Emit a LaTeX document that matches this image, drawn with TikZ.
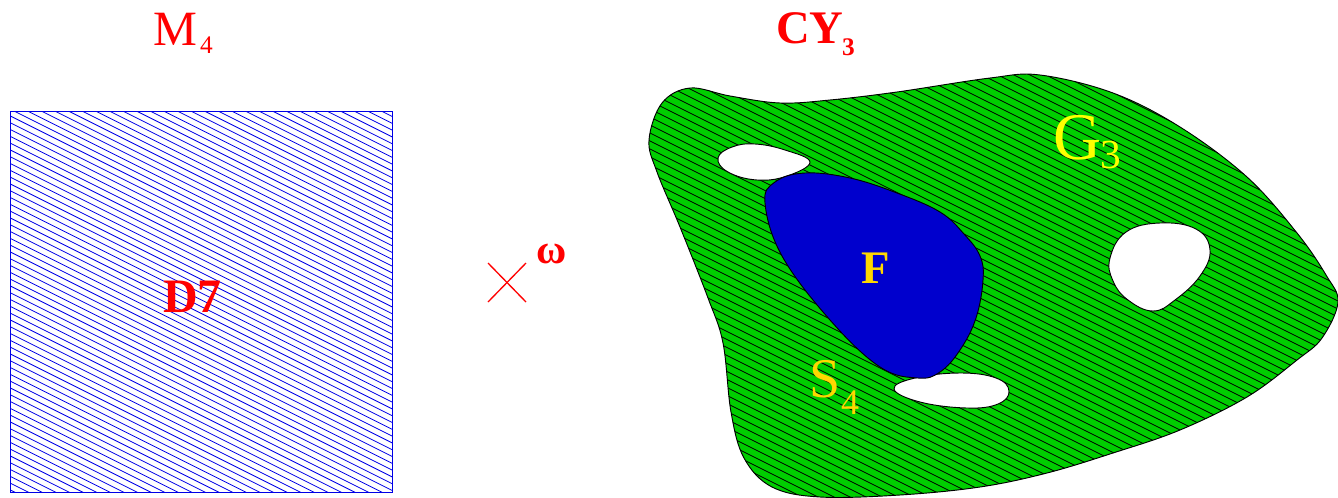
\documentclass[tikz,border=0pt]{standalone}
\usepackage{fontspec}
\setmainfont{Liberation Serif}
\definecolor{figgreen}{RGB}{0,205,0}
\definecolor{figblue}{RGB}{0,0,205}
\definecolor{hatchblue}{RGB}{0,0,230}
\definecolor{figgold}{RGB}{255,215,0}
\definecolor{figyellow}{RGB}{255,255,0}
\begin{document}
\begin{tikzpicture}[x=0.75pt,y=-0.75pt,
  lbl/.style={anchor=base west,inner sep=0pt,outer sep=0pt},
  hatchline/.style={line width=0.6pt},
  outline/.style={draw=black,line width=0.7pt},
  hole/.style={fill=white,draw=black,line width=0.7pt}]
\useasboundingbox (0,0) rectangle (1338,497);

% ---- left square (D7 on M4) ----
\begin{scope}
  \clip (10,111) rectangle (392,492);
  \foreach \c in {-100,-93.2,...,500}{
    \draw[hatchline,hatchblue] (0,\c) -- (400,\c+200);
  }
\end{scope}
\draw[hatchblue,line width=0.6pt] (10,111) rectangle (392,492);

\node[lbl,text=red] (mmain) at (153,45) {\fontsize{37}{40}\selectfont M};
\node[lbl,text=red] (msub) at (200,53) {\fontsize{19}{21}\selectfont 4};
\node[lbl,text=red] (d7) at (163,312) {\fontsize{36}{40}\selectfont\bfseries D7};

% ---- times omega ----
\coordinate (xa) at (488,263);
\coordinate (xb) at (526,302);
\coordinate (xc) at (488,302);
\coordinate (xd) at (526,263);
\draw[red,line width=1pt] (xa) -- (xb);
\draw[red,line width=1pt] (xc) -- (xd);
\node[lbl,text=red] (omega) at (536,263) {\fontsize{31}{34}\selectfont\bfseries ω};

% ---- right blob (CY3) ----
\def\blob{plot[smooth cycle,tension=0.6] coordinates {
  (649,140) (662,103) (690,88) (730,96) (780,103) (830,100) (897,92)
  (990,78) (1040,75) (1113,93) (1180,127) (1247,177) (1297,233)
  (1326,275) (1338,302) (1322,338) (1297,360) (1247,397) (1180,430)
  (1113,453) (1047,473) (980,487) (900,495) (820,497) (772,487)
  (744,458) (731,412) (723,343) (708,298) (680,227) (657,172)}}
\fill[figgreen] \blob;
\begin{scope}
  \clip \blob;
  \foreach \c in {-600,-592,...,200}{
    \draw[hatchline,black] (640,\c+320) -- (1340,\c+670);
  }
\end{scope}
\draw[outline] \blob;

% holes
\draw[hole] plot[smooth cycle,tension=0.7] coordinates {
  (718,158) (732,147) (755,144) (785,150) (810,162) (787,176) (757,180) (728,172)};
\draw[hole] plot[smooth cycle,tension=0.7] coordinates {
  (894,389) (915,378) (960,373) (996,378) (1009,391) (998,404) (967,408) (920,402)};
\draw[hole] plot[smooth cycle,tension=0.7] coordinates {
  (1110,258) (1126,232) (1160,223) (1196,229) (1210,250) (1200,276) (1175,300)
  (1153,311) (1128,300) (1113,281)};

% F region
\draw[fill=figblue,draw=black,line width=0.7pt] plot[smooth cycle,tension=0.65] coordinates {
  (765,203) (775,182) (805,173) (850,178) (897,193) (940,212) (964,234) (980,256)
  (983,280) (976,318) (960,350) (940,372) (918,378) (880,367) (830,320) (782,256)};

\node[lbl,text=figgold] (f) at (861,283) {\fontsize{35}{38}\selectfont\bfseries F};
\node[lbl,text=figgold] (smain) at (809,397) {\fontsize{42}{45}\selectfont S};
\node[lbl,text=figgold] (ssub) at (841,414) {\fontsize{27}{30}\selectfont 4};
\node[lbl,text=figyellow] (gmain) at (1053,159) {\fontsize{50}{54}\selectfont G};
\node[lbl,text=figyellow] (gsub) at (1100,168) {\fontsize{31}{34}\selectfont 3};

\node[lbl,text=red] (cymain) at (776,43) {\fontsize{35}{38}\selectfont\bfseries CY};
\node[lbl,text=red] (cysub) at (842,55) {\fontsize{19}{21}\selectfont\bfseries 3};
\end{tikzpicture}
\end{document}
